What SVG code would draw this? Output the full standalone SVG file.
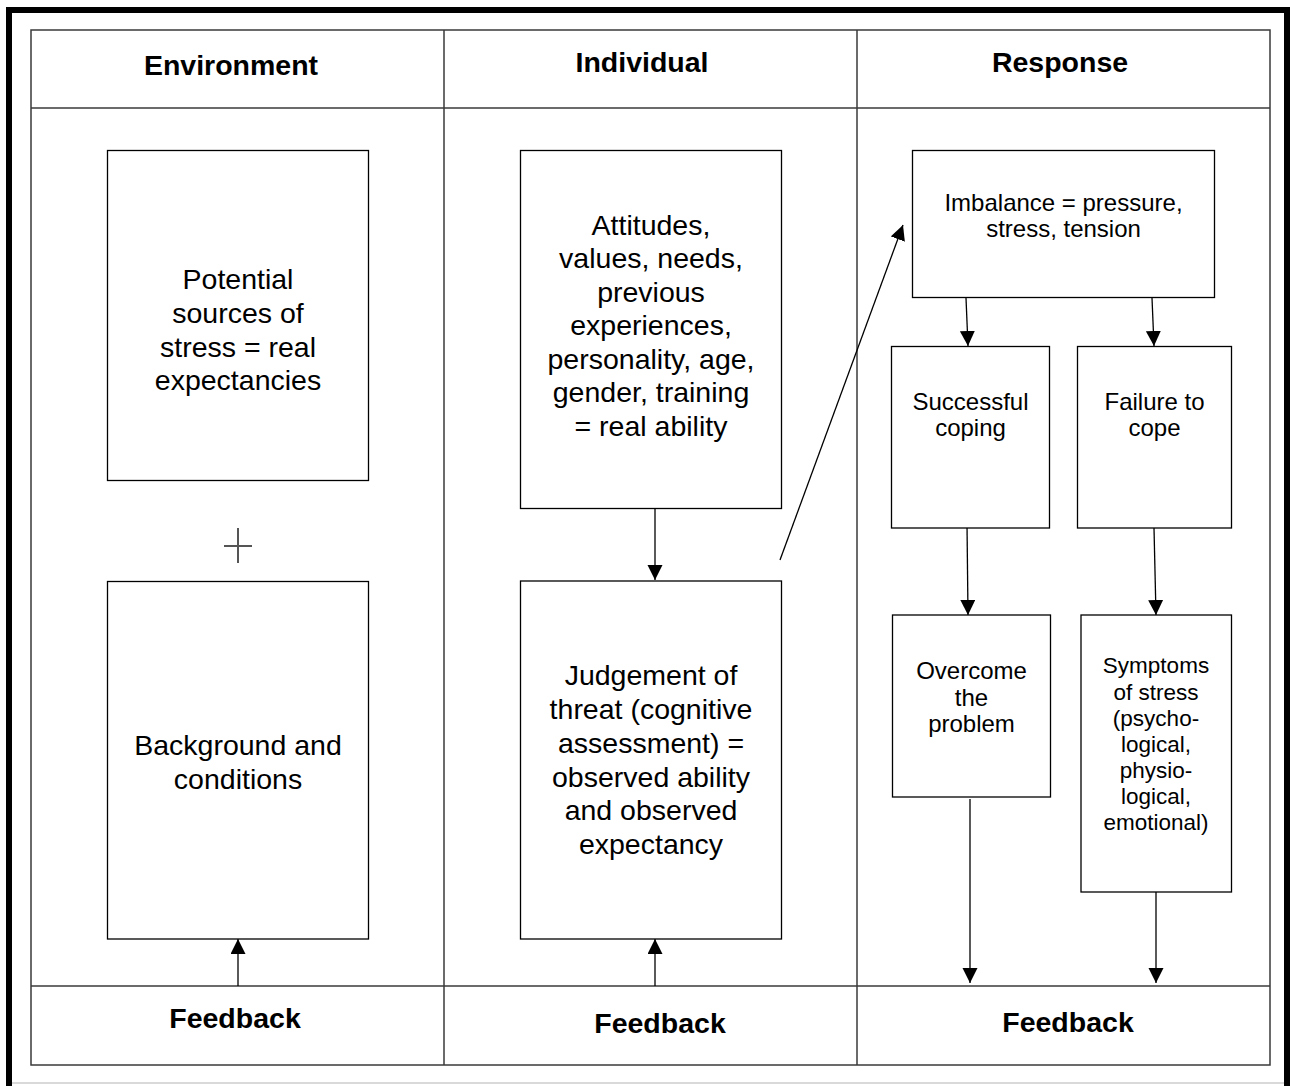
<svg xmlns="http://www.w3.org/2000/svg" width="1290" height="1086" viewBox="0 0 1290 1086">
<defs>
<marker id="ah" markerUnits="userSpaceOnUse" markerWidth="16" markerHeight="16" refX="15" refY="7.5" orient="auto"><path d="M0,0 L15,7.5 L0,15 z" fill="#000"/></marker>
<style>
.frame{fill:none;stroke:#000;stroke-width:6}
.tbl{fill:none;stroke:#3a3a3a;stroke-width:1.5}
.box{fill:#fff;stroke:#000;stroke-width:1.3}
.hd{font-family:"Liberation Sans",Arial,sans-serif;font-weight:bold;font-size:28.5px;text-anchor:middle;fill:#000}
.tx{font-family:"Liberation Sans",Arial,sans-serif;font-size:28.5px;text-anchor:middle;fill:#000}
.ts{font-family:"Liberation Sans",Arial,sans-serif;font-size:24px;text-anchor:middle;fill:#000}
.tss{font-family:"Liberation Sans",Arial,sans-serif;font-size:22.5px;text-anchor:middle;fill:#000}
.conn{fill:none;stroke:#000;stroke-width:1.3;marker-end:url(#ah)}
.plus{stroke:#555;stroke-width:2}
</style>
</defs>
<rect width="1290" height="1086" fill="#fff"/>
<path class="frame" d="M9,1086 V10 H1287 V1086"/>
<line x1="12" y1="1083" x2="1284" y2="1083" stroke="#ccc" stroke-width="1.5"/>
<g id="table">
<rect class="tbl" x="31" y="30" width="1239" height="1035"/>
<line class="tbl" x1="31" y1="108" x2="1270" y2="108"/>
<line class="tbl" x1="31" y1="986" x2="1270" y2="986"/>
<line class="tbl" x1="444" y1="30" x2="444" y2="1065"/>
<line class="tbl" x1="857" y1="30" x2="857" y2="1065"/>
<text class="hd" x="231" y="75">Environment</text>
<text class="hd" x="642" y="72">Individual</text>
<text class="hd" x="1060" y="72">Response</text>
<text class="hd" x="235" y="1028">Feedback</text>
<text class="hd" x="660" y="1033">Feedback</text>
<text class="hd" x="1068" y="1032">Feedback</text>
</g>
<g id="connectors">
<line class="conn" x1="655" y1="508" x2="655" y2="580"/>
<line class="conn" x1="780" y1="560" x2="903" y2="225"/>
<line class="conn" x1="966" y1="298" x2="968" y2="346"/>
<line class="conn" x1="1152" y1="298" x2="1154" y2="346"/>
<line class="conn" x1="967" y1="524" x2="968" y2="615"/>
<line class="conn" x1="1154" y1="528" x2="1156" y2="615"/>
<line class="conn" x1="970" y1="799" x2="970" y2="983"/>
<line class="conn" x1="1156" y1="892" x2="1156" y2="983"/>
<line class="conn" x1="238" y1="986" x2="238" y2="939"/>
<line class="conn" x1="655" y1="986" x2="655" y2="939"/>
</g>
<g id="plus">
<line class="plus" x1="238" y1="528" x2="238" y2="563"/>
<line class="plus" x1="224" y1="546" x2="252" y2="546"/>
</g>
<g id="potential-sources">
<rect class="box" x="107.5" y="150.5" width="261" height="330"/>
<text class="tx" x="238" y="289">Potential</text>
<text class="tx" x="238" y="323">sources of</text>
<text class="tx" x="238" y="356.5">stress = real</text>
<text class="tx" x="238" y="390">expectancies</text>
</g>
<g id="background">
<rect class="box" x="107.5" y="581.5" width="261" height="357.5"/>
<text class="tx" x="238" y="755">Background and</text>
<text class="tx" x="238" y="788.5">conditions</text>
</g>
<g id="attitudes">
<rect class="box" x="520.5" y="150.5" width="261" height="358"/>
<text class="tx" x="651" y="234.5">Attitudes,</text>
<text class="tx" x="651" y="268">values, needs,</text>
<text class="tx" x="651" y="301.5">previous</text>
<text class="tx" x="651" y="335">experiences,</text>
<text class="tx" x="651" y="368.5">personality, age,</text>
<text class="tx" x="651" y="402">gender, training</text>
<text class="tx" x="651" y="435.5">= real ability</text>
</g>
<g id="judgement">
<rect class="box" x="520.5" y="581" width="261" height="358"/>
<text class="tx" x="651" y="685">Judgement of</text>
<text class="tx" x="651" y="719">threat (cognitive</text>
<text class="tx" x="651" y="752.5">assessment) =</text>
<text class="tx" x="651" y="786.5">observed ability</text>
<text class="tx" x="651" y="820">and observed</text>
<text class="tx" x="651" y="854">expectancy</text>
</g>
<g id="imbalance">
<rect class="box" x="912.5" y="150.5" width="302" height="147"/>
<text class="ts" x="1063.5" y="211">Imbalance = pressure,</text>
<text class="ts" x="1063.5" y="237">stress, tension</text>
</g>
<g id="successful-coping">
<rect class="box" x="891.5" y="346.5" width="158" height="181.5"/>
<text class="ts" x="970.5" y="410">Successful</text>
<text class="ts" x="970.5" y="436">coping</text>
</g>
<g id="failure-to-cope">
<rect class="box" x="1077.5" y="346.5" width="154" height="181.5"/>
<text class="ts" x="1154.5" y="410">Failure to</text>
<text class="ts" x="1154.5" y="436">cope</text>
</g>
<g id="overcome">
<rect class="box" x="892.5" y="615" width="158" height="182"/>
<text class="ts" x="971.5" y="679">Overcome</text>
<text class="ts" x="971.5" y="706">the</text>
<text class="ts" x="971.5" y="732">problem</text>
</g>
<g id="symptoms">
<rect class="box" x="1081" y="615" width="150.5" height="277"/>
<text class="tss" x="1156" y="673">Symptoms</text>
<text class="tss" x="1156" y="699.5">of stress</text>
<text class="tss" x="1156" y="725.5">(psycho-</text>
<text class="tss" x="1156" y="751.5">logical,</text>
<text class="tss" x="1156" y="777.5">physio-</text>
<text class="tss" x="1156" y="803.5">logical,</text>
<text class="tss" x="1156" y="829.5">emotional)</text>
</g>
</svg>
